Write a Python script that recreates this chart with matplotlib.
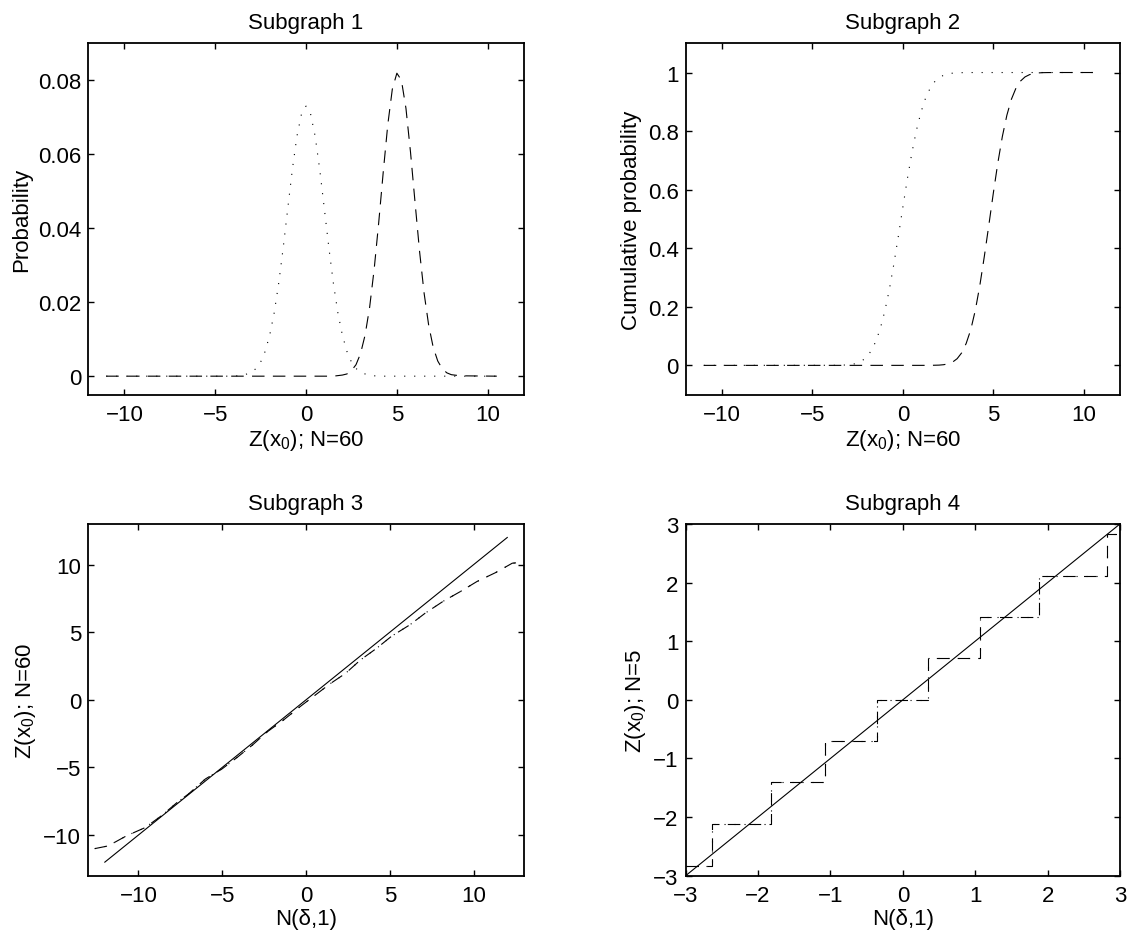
import matplotlib
matplotlib.use("Agg")
import matplotlib.pyplot as plt
from matplotlib.ticker import FormatStrFormatter

plt.rcParams["font.family"] = ["Liberation Sans", "DejaVu Sans"]
plt.rcParams["font.size"] = 16
plt.rcParams["mathtext.fontset"] = "custom"
plt.rcParams["mathtext.rm"] = "Liberation Sans"
plt.rcParams["mathtext.it"] = "Liberation Sans:italic"
plt.rcParams["lines.scale_dashes"] = False
plt.rcParams["axes.linewidth"] = 1.3

# --- Subgraph 1: probability of Z(x0), N=60
pdf_x_a = [-11.0, -4.0, -3.5, -3.0, -2.75, -2.5, -2.25, -2.0, -1.75, -1.5, -1.25, -1.0,
           -0.75, -0.5, -0.25, 0.0, 0.25, 0.5, 0.75, 1.0, 1.25, 1.5, 1.75, 2.0, 2.25,
           2.5, 2.75, 3.0, 3.5, 4.0, 10.5]
pdf_y_a = [0.0, 0.0, 0.0002, 0.0010, 0.0021, 0.0038, 0.0067, 0.0111, 0.0172, 0.0253,
           0.0350, 0.0456, 0.0560, 0.0649, 0.0709, 0.0730, 0.0709, 0.0649, 0.0560,
           0.0456, 0.0350, 0.0253, 0.0172, 0.0111, 0.0067, 0.0038, 0.0021, 0.0010,
           0.0002, 0.0, 0.0]
pdf_x_b = [-11.0, 1.5, 2.0, 2.25, 2.5, 2.75, 3.0, 3.25, 3.5, 3.75, 4.0, 4.25, 4.5, 4.75,
           5.0, 5.25, 5.5, 5.75, 6.0, 6.25, 6.5, 6.75, 7.0, 7.25, 7.5, 7.75, 8.0, 8.5, 10.5]
pdf_y_b = [0.0, 0.0, 0.0003, 0.0006, 0.0015, 0.0031, 0.0061, 0.0111, 0.0186, 0.0289,
           0.0415, 0.0552, 0.0680, 0.0776, 0.0819, 0.0800, 0.0724, 0.0606, 0.0470,
           0.0337, 0.0224, 0.0138, 0.0078, 0.0041, 0.0020, 0.0009, 0.0004, 0.0001, 0.0]

# --- Subgraph 2: cumulative probability
cdf_x_a = [-11.0, -3.5, -3.0, -2.75, -2.5, -2.25, -2.0, -1.75, -1.5, -1.25, -1.0, -0.75,
           -0.5, -0.25, 0.0, 0.25, 0.5, 0.75, 1.0, 1.25, 1.5, 1.75, 2.0, 2.25, 2.5,
           2.75, 3.0, 3.5, 10.5]
cdf_y_a = [0.0, 0.0003, 0.0019, 0.0040, 0.0082, 0.0158, 0.0287, 0.0495, 0.0808, 0.1251,
           0.1841, 0.2578, 0.3446, 0.4404, 0.5398, 0.6368, 0.7257, 0.8023, 0.8643,
           0.9115, 0.9452, 0.9678, 0.9821, 0.9906, 0.9953, 0.9978, 0.9990, 0.9999, 1.0]
cdf_x_b = [-11.0, 1.5, 2.0, 2.25, 2.5, 2.75, 3.0, 3.25, 3.5, 3.75, 4.0, 4.25, 4.5, 4.75,
           5.0, 5.25, 5.5, 5.75, 6.0, 6.25, 6.5, 6.75, 7.0, 7.25, 7.5, 7.75, 8.0, 8.5, 10.5]
cdf_y_b = [0.0, 0.0001, 0.0009, 0.0023, 0.0052, 0.0113, 0.0228, 0.0427, 0.0749, 0.1210,
           0.1867, 0.2709, 0.3707, 0.4778, 0.5879, 0.6915, 0.7817, 0.8544, 0.9088,
           0.9464, 0.9706, 0.9849, 0.9927, 0.9967, 0.9987, 0.9995, 0.9998, 1.0, 1.0]

# --- Subgraph 3: Z(x0) against N(delta,1), N=60
qq_x = [-12.6, -11.8, -10.7, -9.6, -8.6, -7.7, -7.0, -6.0, -5.0, -4.1, -3.2, -2.35,
        -1.35, -0.35, 0.55, 1.45, 2.35, 3.25, 4.2, 5.1, 6.2, 7.1, 8.2, 9.2, 10.2,
        11.3, 12.3, 12.8]
qq_y = [-11.0, -10.8, -10.05, -9.45, -8.55, -7.6, -6.95, -5.85, -5.1, -4.25, -3.35,
        -2.4, -1.5, -0.5, 0.35, 1.2, 1.95, 2.95, 3.8, 4.7, 5.55, 6.4, 7.3, 8.0, 8.75,
        9.4, 10.1, 10.15]
ref_line3 = [-12.0, 12.0]

# --- Subgraph 4: N=5 staircase
step_edges = [-3.0, -2.64, -1.82, -1.08, -0.36, 0.35, 1.07, 1.88, 2.82, 3.0]
step_levels = [-2.83, -2.12, -1.41, -0.71, 0.0, 0.71, 1.41, 2.12, 2.83]
ref_line4 = [-3.0, 3.0]

DOT = (0, (0.8, 6.4))
DASH = (0, (9.0, 6.0))
LW = 0.8


def style_axes(ax, title):
    ax.set_title(title, pad=11, fontsize=16)
    ax.tick_params(direction="in", top=True, right=True, length=4, width=1.0,
                   labelsize=16)
    ax.tick_params(axis="x", pad=7)
    ax.tick_params(axis="y", pad=5)


fig = plt.figure(figsize=(11.36, 9.45), dpi=100)
ax1 = fig.add_axes([0.0775, 0.5813, 0.3838, 0.3719])
ax2 = fig.add_axes([0.6036, 0.5813, 0.3823, 0.3719])
ax3 = fig.add_axes([0.0775, 0.0723, 0.3838, 0.3722])
ax4 = fig.add_axes([0.6036, 0.0723, 0.3823, 0.3722])

# probability
ax1.plot(pdf_x_a, pdf_y_a, color="k", lw=LW, linestyle=DOT)
ax1.plot(pdf_x_b, pdf_y_b, color="k", lw=LW, linestyle=DASH)
ax1.set_xlim(-12, 12)
ax1.set_ylim(-0.005, 0.09)
ax1.set_xticks([-10, -5, 0, 5, 10])
ax1.set_yticks([0, 0.02, 0.04, 0.06, 0.08])
ax1.yaxis.set_major_formatter(FormatStrFormatter("%g"))
ax1.set_xlabel("Z(x$_0$); N=60", labelpad=1)
ax1.set_ylabel("Probability", labelpad=4)
style_axes(ax1, "Subgraph 1")

# cumulative probability
ax2.plot(cdf_x_a, cdf_y_a, color="k", lw=LW, linestyle=DOT)
ax2.plot(cdf_x_b, cdf_y_b, color="k", lw=LW, linestyle=DASH)
ax2.set_xlim(-12, 12)
ax2.set_ylim(-0.1, 1.1)
ax2.set_xticks([-10, -5, 0, 5, 10])
ax2.set_yticks([0, 0.2, 0.4, 0.6, 0.8, 1])
ax2.yaxis.set_major_formatter(FormatStrFormatter("%g"))
ax2.set_xlabel("Z(x$_0$); N=60", labelpad=1)
ax2.set_ylabel("Cumulative probability", labelpad=4)
style_axes(ax2, "Subgraph 2")

# quantile plot, N=60
ax3.plot(ref_line3, ref_line3, color="k", lw=LW)
ax3.plot(qq_x, qq_y, color="k", lw=LW, linestyle=DOT)
ax3.plot(qq_x, qq_y, color="k", lw=LW, linestyle=DASH)
ax3.set_xlim(-13, 13)
ax3.set_ylim(-13, 13)
ax3.set_xticks([-10, -5, 0, 5, 10])
ax3.set_yticks([-10, -5, 0, 5, 10])
ax3.set_xlabel("N(δ,1)", labelpad=1)
ax3.set_ylabel("Z(x$_0$); N=60", labelpad=4)
style_axes(ax3, "Subgraph 3")

# quantile plot, N=5
stair_y = step_levels + [step_levels[-1]]
ax4.plot(ref_line4, ref_line4, color="k", lw=LW)
ax4.step(step_edges, stair_y, where="post", color="k", lw=LW, linestyle=DOT)
ax4.step(step_edges, stair_y, where="post", color="k", lw=LW, linestyle=DASH)
ax4.set_xlim(-3, 3)
ax4.set_ylim(-3, 3)
ax4.set_xticks([-3, -2, -1, 0, 1, 2, 3])
ax4.set_yticks([-3, -2, -1, 0, 1, 2, 3])
ax4.set_xlabel("N(δ,1)", labelpad=1)
ax4.set_ylabel("Z(x$_0$); N=5", labelpad=4)
style_axes(ax4, "Subgraph 4")

fig.savefig("out.png", dpi=100)
